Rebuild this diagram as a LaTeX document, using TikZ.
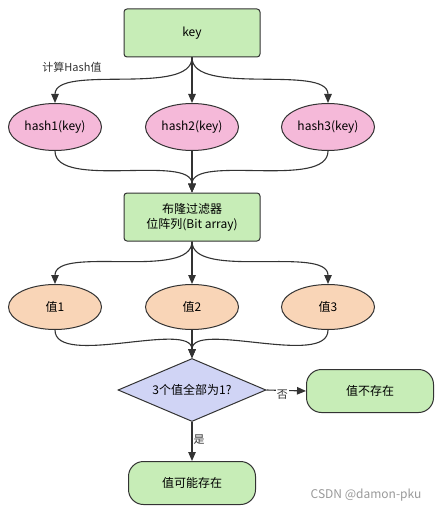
\documentclass[tikz,border=0pt]{standalone}
\usepackage{fontspec}
\setmainfont{Noto Sans CJK SC}
\usetikzlibrary{
    arrows.meta,
    shapes.geometric
}

\definecolor{boxgreen}{HTML}{C7EDB7}
\definecolor{hashpink}{HTML}{F5B9D9}
\definecolor{valpeach}{HTML}{F9D5B7}
\definecolor{checkblue}{HTML}{D0D4F5}
\definecolor{edgegray}{HTML}{333333}

\begin{document}
\begin{tikzpicture}[
    x=1pt, y=-1pt,
    font=\fontsize{12}{15}\selectfont,
    stepbox/.style={
        rectangle,
        rounded corners=3pt,
        draw=edgegray,
        line width=1pt,
        fill=boxgreen,
        align=center,
        minimum width=136pt,
        minimum height=48pt,
        inner sep=0pt
    },
    hashnode/.style={
        ellipse,
        draw=edgegray,
        line width=1pt,
        fill=hashpink,
        minimum width=93pt,
        minimum height=47pt,
        inner sep=0pt
    },
    valnode/.style={
        hashnode,
        fill=valpeach,
        minimum height=45pt
    },
    checknode/.style={
        diamond,
        aspect=2.35,
        draw=edgegray,
        line width=1pt,
        fill=checkblue,
        minimum width=148pt,
        minimum height=63pt,
        inner sep=0pt
    },
    result/.style={
        rectangle,
        rounded corners=15pt,
        draw=edgegray,
        line width=1pt,
        fill=boxgreen,
        minimum width=127pt,
        minimum height=43pt,
        inner sep=0pt
    },
    arrow/.style={
        -{Triangle[length=9pt,width=7.5pt]},
        line width=1.1pt,
        draw=edgegray
    },
    note/.style={
        font=\fontsize{11}{13}\selectfont,
        text=edgegray,
        fill=white,
        inner sep=1pt
    }
]
\useasboundingbox (0,0) rectangle (444,513);

% =========================================================
% Input and hash functions
% =========================================================
\node[stepbox] (key) at (192,33) {key};
\node[note] (hashlabel) at (72,67) {计算Hash值};

\node[hashnode] (h1) at (55,127) {hash1(key)};
\node[hashnode] (h2) at (192,127) {hash2(key)};
\node[hashnode] (h3) at (328,127) {hash3(key)};

\draw[arrow] (key.south) to[out=-90,in=90,looseness=0.7] (h1.north);
\draw[arrow] (key.south) -- (h2.north);
\draw[arrow] (key.south) to[out=-90,in=90,looseness=0.7] (h3.north);

% =========================================================
% Bit array
% =========================================================
\node[stepbox] (filter) at (192,217) {布隆过滤器\\位阵列(Bit array)};

\draw[arrow] (h1.south) to[out=-90,in=90,looseness=0.7] (filter.north);
\draw[arrow] (h2.south) -- (filter.north);
\draw[arrow] (h3.south) to[out=-90,in=90,looseness=0.7] (filter.north);

% =========================================================
% Looked-up bits
% =========================================================
\node[valnode] (v1) at (55,307) {值1};
\node[valnode] (v2) at (192,307) {值2};
\node[valnode] (v3) at (328,307) {值3};

\draw[arrow] (filter.south) to[out=-90,in=90,looseness=0.7] (v1.north);
\draw[arrow] (filter.south) -- (v2.north);
\draw[arrow] (filter.south) to[out=-90,in=90,looseness=0.7] (v3.north);

% =========================================================
% Decision
% =========================================================
\node[checknode] (check) at (192,390) {3个值全部为1?};

\draw[arrow] (v1.south) to[out=-90,in=90,looseness=0.7] (check.north);
\draw[arrow] (v2.south) -- (check.north);
\draw[arrow] (v3.south) to[out=-90,in=90,looseness=0.7] (check.north);

\node[result] (absent) at (370,391) {值不存在};
\node[result] (maybe) at (192,483) {值可能存在};

\draw[arrow] (check.east) -- node[note, pos=0.4, yshift=-4pt] {否} (absent.west);
\draw[arrow] (check.south) -- node[note, pos=0.45, xshift=7pt] {是} (maybe.north);

\node[text=black!40] (mark) at (366,495) {CSDN @damon-pku};

\end{tikzpicture}
\end{document}
